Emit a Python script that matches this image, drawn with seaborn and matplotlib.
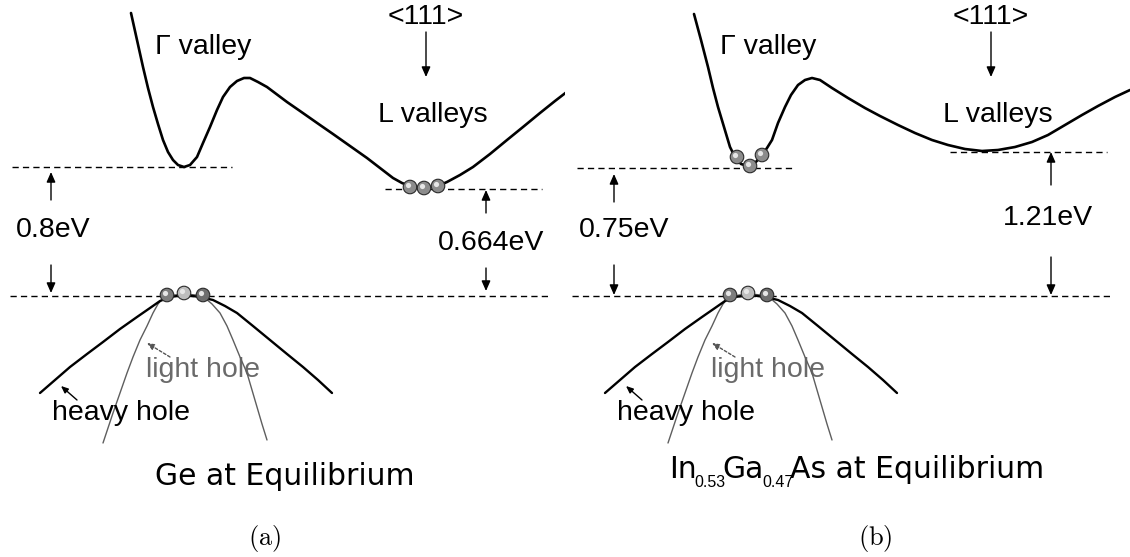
import numpy as np
import pandas as pd
import matplotlib
matplotlib.use("Agg")
import matplotlib.pyplot as plt
import seaborn as sns

# ---------------------------------------------------------------
# Band-structure sketches (pixel-like schematic coordinates,
# y grows downward, one panel is 565 units wide)
# ---------------------------------------------------------------

# Conduction band, Ge (Gamma valley + L valley)
cb_ge_x = [131, 137, 143, 148, 153, 158, 163, 168, 173, 178, 184, 190, 197, 203,
           210, 217, 223, 230, 237, 244, 250, 258, 267, 287, 300, 320, 333, 350,
           367, 380, 393, 402, 410, 420, 430, 440, 447, 460, 473, 490, 507, 523,
           540, 555, 568]
cb_ge_y = [13, 40, 67, 88, 107, 124, 140, 152, 160, 165, 167, 165, 157, 143,
           127, 110, 97, 87, 81, 78, 78, 82, 87, 102, 111, 125, 134, 146,
           158, 168, 178, 183, 186, 188, 187, 185, 182, 175, 167, 154, 140, 127,
           113, 101, 91]

# Conduction band, In0.53Ga0.47As
cb_ingaas_x = [129, 136, 143, 148, 153, 159, 165, 170, 176, 183, 190, 197, 202,
               207, 213, 220, 226, 233, 240, 247, 255, 267, 283, 300, 315, 333,
               350, 367, 383, 400, 417, 433, 450, 467, 483, 500, 517, 533, 550, 565]
cb_ingaas_y = [14, 40, 67, 88, 107, 127, 147, 157, 164, 166, 163, 155, 148,
               140, 123, 107, 95, 85, 80, 78, 80, 88, 98, 108, 116, 125,
               133, 140, 145, 149, 151, 150, 147, 142, 135, 125, 115, 106, 97, 90]

# Valence bands (same sketch in both panels)
hh_x = [40, 55, 70, 87, 103, 120, 137, 150, 160, 170, 185, 200, 213, 225, 237,
        253, 270, 287, 303, 318, 332]
hh_y = [393, 380, 367, 354, 342, 329, 317, 308, 301, 297, 295, 297, 300, 306, 313,
        326, 340, 354, 367, 380, 393]
lh_x = [103, 108, 113, 120, 127, 133, 140, 147, 153, 158, 163, 174, 185, 196, 205,
        212, 220, 227, 233, 240, 247, 252, 257, 262, 267]
lh_y = [443, 428, 413, 393, 373, 357, 340, 326, 313, 304, 298, 295, 294, 295, 298,
        304, 313, 326, 340, 357, 373, 390, 407, 424, 440]

# Reference levels: (y, x_start, x_end)
levels_ge = [(167, 12, 232), (189, 385, 542), (296, 10, 548)]
levels_ingaas = [(168, 12, 230), (152, 385, 542), (296, 7, 547)]

# Energy gap annotations: (label, x_arrow, up arrow (from, to), down arrow (from, to), label x, label y)
gaps_ge = [("0.8eV", 51, (200, 172), (265, 293), 53, 230),
           ("0.664eV", 486, (213, 190), (268, 291), 491, 243)]
gaps_ingaas = [("0.75eV", 49, (202, 174), (265, 295), 59, 230),
               ("1.21eV", 486, (185, 152), (257, 295), 483, 218)]

# Carriers sitting at band extrema: (x, y, shade)
carriers_ge = [(410, 187, "#8c8c8c"), (424, 188, "#8c8c8c"), (438, 186, "#8c8c8c"),
               (167, 295, "#7d7d7d"), (184, 293, "#bdbdbd"), (203, 295, "#6e6e6e")]
carriers_ingaas = [(172, 157, "#8c8c8c"), (185, 166, "#8c8c8c"), (197, 155, "#8c8c8c"),
                   (165, 295, "#7d7d7d"), (183, 293, "#bdbdbd"), (202, 295, "#6e6e6e")]

# Caption pieces: (text, is_subscript)
caption_ge = [("Ge at Equilibrium", False)]
caption_ingaas = [("In", False), ("0.53", True), ("Ga", False), ("0.47", True),
                  ("As at Equilibrium", False)]
captions = [caption_ge, caption_ingaas]
caption_x0 = [155, 104]
caption_base = [485, 478]
tags = ["(a)", "(b)"]
tag_x = [265, 310]

sns.set_theme(style="white")
plt.rcParams["font.family"] = ["DejaVu Sans"]
plt.rcParams["text.color"] = "black"

LBL = dict(family=["Liberation Sans", "DejaVu Sans"], fontsize=20.5, color="black")

fig = plt.figure(figsize=(11.30, 5.57), dpi=100)
axes = [fig.add_axes([0, 0, 0.5, 1]), fig.add_axes([0.5, 0, 0.5, 1])]

panels = [
    (cb_ge_x, cb_ge_y, levels_ge, gaps_ge, carriers_ge),
    (cb_ingaas_x, cb_ingaas_y, levels_ingaas, gaps_ingaas, carriers_ingaas),
]


def arrow(ax, x0, y0, x1, y1, color="black", ls="-", hw=0.22, hl=0.5):
    ax.annotate("", xy=(x1, y1), xytext=(x0, y0),
                arrowprops=dict(arrowstyle=f"-|>,head_width={hw},head_length={hl}",
                                color=color, lw=1.0, linestyle=ls,
                                shrinkA=0, shrinkB=0))


for i, (ax, (cx, cy, levels, gaps, carriers)) in enumerate(zip(axes, panels)):
    ax.set_xlim(0, 565)
    ax.set_ylim(557, 0)
    ax.axis("off")

    # reference levels
    for (yl, xa, xb) in levels:
        ax.plot([xa, xb], [yl, yl], color="black", lw=1.0,
                linestyle=(0, (4.5, 3.0)), zorder=1)

    # conduction band
    sns.lineplot(x=cx, y=cy, sort=False, estimator=None, ax=ax,
                 color="black", linewidth=1.9, zorder=3)
    # valence bands
    sns.lineplot(x=lh_x, y=lh_y, sort=False, estimator=None, ax=ax,
                 color="#5e5e5e", linewidth=1.0, zorder=2)
    sns.lineplot(x=hh_x, y=hh_y, sort=False, estimator=None, ax=ax,
                 color="black", linewidth=1.7, zorder=3)

    # carriers
    car = pd.DataFrame(carriers, columns=["x", "y", "c"])
    sns.scatterplot(data=car, x="x", y="y", ax=ax, s=95, c=list(car["c"]),
                    edgecolor="#2a2a2a", linewidth=0.8, zorder=5, legend=False)
    sns.scatterplot(x=car["x"] - 1.8, y=car["y"] - 2.0, ax=ax, s=14,
                    color="#e6e6e6", linewidth=0, zorder=6, legend=False)

    # gap annotations
    for (lab, xa, up, dn, tx, ty) in gaps:
        arrow(ax, xa, up[0], xa, up[1])
        arrow(ax, xa, dn[0], xa, dn[1])
        ax.text(tx, ty, lab, ha="center", va="center", **LBL)

    # valley labels
    ax.text(426, 17, "<111>", ha="center", va="center", **LBL)
    arrow(ax, 426, 32, 426, 77)
    ax.text(203, 47, "Γ valley", ha="center", va="center", **LBL)
    ax.text(433, 115, "L valleys", ha="center", va="center", **LBL)

    # hole band labels
    ax.text(121, 413, "heavy hole", ha="center", va="center", **LBL)
    arrow(ax, 77, 400, 61, 386, hw=0.15, hl=0.35)
    ax.text(203, 370, "light hole", ha="center", va="center", color="#6a6a6a",
            family=["Liberation Sans", "DejaVu Sans"], fontsize=20.5, zorder=1)
    arrow(ax, 170, 357, 147, 343, color="#555555", ls=(0, (2, 1.5)), hw=0.15, hl=0.35)

    ax.text(tag_x[i], 538, r"$\mathrm{" + tags[i] + "}$", ha="center", va="center",
            fontsize=19, math_fontfamily="cm")

fig.canvas.draw()
renderer = fig.canvas.get_renderer()

# panel captions, laid out piece by piece so subscripts sit low and tight
for i, ax in enumerate(axes):
    x = caption_x0[i]
    inv = ax.transData.inverted()
    for text, sub in captions[i]:
        if sub:
            t = ax.text(x - 2, caption_base[i] + 9, text, ha="left", va="baseline",
                        fontsize=11.5, family=["Liberation Sans", "DejaVu Sans"])
            gap = -3
        else:
            t = ax.text(x, caption_base[i], text, ha="left", va="baseline",
                        fontsize=21.5, family=["DejaVu Sans"])
            gap = 0
        bb = t.get_window_extent(renderer)
        x = inv.transform((bb.x1, bb.y0))[0] + gap

fig.savefig("out.png", dpi=100, facecolor="white")
